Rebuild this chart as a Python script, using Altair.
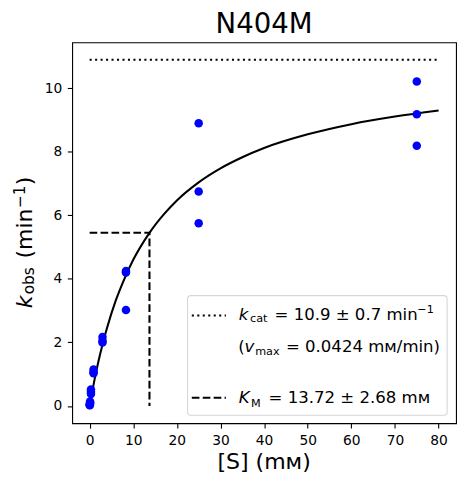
import altair as alt
import pandas as pd

# ---- data ----
S_conc = [0.034, 0.034, 0.034, 0.103, 0.103, 0.103, 0.309, 0.309, 0.309,
          0.9, 0.9, 0.9, 2.95, 2.95, 2.95, 8.33, 8.33, 8.33,
          25, 25, 25, 75, 75, 75]
k_obs = [0.02, 0.05, 0.03, 0.10, 0.14, 0.08, 0.52, 0.38, 0.45,
         1.15, 1.07, 1.03, 2.17, 2.05, 2.00, 4.25, 4.20, 3.02,
         8.90, 6.75, 5.75, 10.21, 9.18, 8.19]

curve_S = [0, 0.5, 1, 2, 3, 4, 6, 8, 10, 13.72, 17, 20, 25, 30, 35, 40, 50, 60, 70, 80]
curve_k = [0, 0.38, 0.74, 1.39, 1.96, 2.46, 3.32, 4.01, 4.60, 5.45, 6.03, 6.47,
           7.04, 7.48, 7.83, 8.12, 8.55, 8.87, 9.11, 9.30]

kcat = 10.9
Km = 13.72
half_kcat = 5.45
S_end = 80

x_ticks = [0, 10, 20, 30, 40, 50, 60, 70, 80]
y_ticks = [0, 2, 4, 6, 8, 10]

title_text = "N404M"
x_title = "[S] (m\u1d0d)"

W, H = 387, 384
FONT = "DejaVu Sans"
LW = 2.08
DOT = [2.08, 3.44]
DASH = [7.7, 3.33]

xscale = alt.Scale(domain=[-4, 84], nice=False, zero=False)
yscale = alt.Scale(domain=[-0.545, 11.445], nice=False, zero=False)
xaxis = alt.Axis(values=x_ticks, title=None, labelPadding=5.5, labelFlush=False)
yaxis = alt.Axis(values=y_ticks, title=None, labelPadding=5.5)

pts = pd.DataFrame({"S": S_conc, "k": k_obs})
curve = pd.DataFrame({"S": curve_S, "k": curve_k})
kcat_df = pd.DataFrame({"S": [0], "S2": [S_end], "k": [kcat]})
km_df = pd.DataFrame({"S": [0, Km, Km], "k": [half_kcat, half_kcat, 0], "o": [0, 1, 2]})

X = lambda: alt.X("S:Q", scale=xscale, axis=xaxis)
Y = lambda: alt.Y("k:Q", scale=yscale, axis=yaxis)

kcat_line = alt.Chart(kcat_df).mark_rule(color="black", strokeWidth=LW, strokeDash=DOT).encode(
    x=X(), x2="S2:Q", y=Y())
km_line = alt.Chart(km_df).mark_line(color="black", strokeWidth=LW, strokeDash=DASH).encode(
    x=X(), y=Y(), order="o:Q")
fit = alt.Chart(curve).mark_line(color="black", strokeWidth=LW, interpolate="monotone").encode(
    x=X(), y=Y())
dots = alt.Chart(pts).mark_circle(size=74, color="#0000ff", opacity=1).encode(x=X(), y=Y())

one = pd.DataFrame({"a": [0]})


def txt(s, x, y, size, style="normal", angle=0, align="left"):
    return alt.Chart(one).mark_text(
        text=s, font=FONT, fontSize=size, fontStyle=style, align=align,
        baseline="alphabetic", angle=angle, color="black"
    ).encode(x=alt.value(x), y=alt.value(y))


legend_box = alt.Chart(one).mark_rect(
    fill="white", fillOpacity=0.8, stroke="#cccccc", strokeOpacity=0.8,
    strokeWidth=1.1, cornerRadius=3.3
).encode(x=alt.value(116.3), x2=alt.value(378), y=alt.value(255.3), y2=alt.value(376))

h1 = alt.Chart(one).mark_rule(color="black", strokeWidth=LW, strokeDash=DOT).encode(
    x=alt.value(120.6), x2=alt.value(155), y=alt.value(275.3))
h2 = alt.Chart(one).mark_rule(color="black", strokeWidth=LW, strokeDash=DASH).encode(
    x=alt.value(120.6), x2=alt.value(155), y=alt.value(358.3))

LF = 16.7
SF = 11.3
texts = [
    # legend row 1
    txt("k", 168, 280, LF, "italic"),
    txt("cat", 179.3, 281.8, SF),
    txt("= 10.9 \u00b1 0.7 min", 204, 280, LF),
    txt("\u22121", 348, 273.3, SF),
    # legend row 2
    txt("(", 167.5, 312.6, LF),
    txt("v", 173.8, 312.6, LF, "italic"),
    txt("max", 184.5, 315.2, SF),
    txt("= 0.0424 m\u1d0d/min)", 215.5, 312.6, LF),
    # legend row 4
    txt("K", 168, 363.6, LF, "italic"),
    txt("M", 180.3, 367.4, SF),
    txt("= 13.72 \u00b1 2.68 m\u1d0d", 198, 363.6, LF),
    # title and axis titles
    txt(title_text, W / 2, -9, 27.8, align="center"),
    txt(x_title, W / 2, 430.6, 22.2, align="center"),
    txt("k", -41, 268, 22.2, "italic", angle=270),
    txt("obs", -38.5, 254, 15.5, angle=270),
    txt("(min", -41, 218, 22.2, angle=270),
    txt("\u22121", -48, 167, 15.5, angle=270),
    txt(")", -41, 144, 22.2, angle=270),
]

chart = alt.layer(kcat_line, km_line, fit, dots, legend_box, h1, h2, *texts).properties(
    width=W, height=H,
    autosize=alt.AutoSizeParams(type="none"),
    padding={"left": 64.7, "top": 32.7, "right": 5, "bottom": 60},
    background="white",
).configure_view(
    stroke="black", strokeWidth=1.1
).configure_axis(
    domain=False, grid=False, tickColor="black", tickWidth=1.1, tickSize=4.9,
    labelFont=FONT, labelFontSize=13.9, labelColor="black"
)

chart.save("out.html", embed_options={"renderer": "svg", "actions": False})
